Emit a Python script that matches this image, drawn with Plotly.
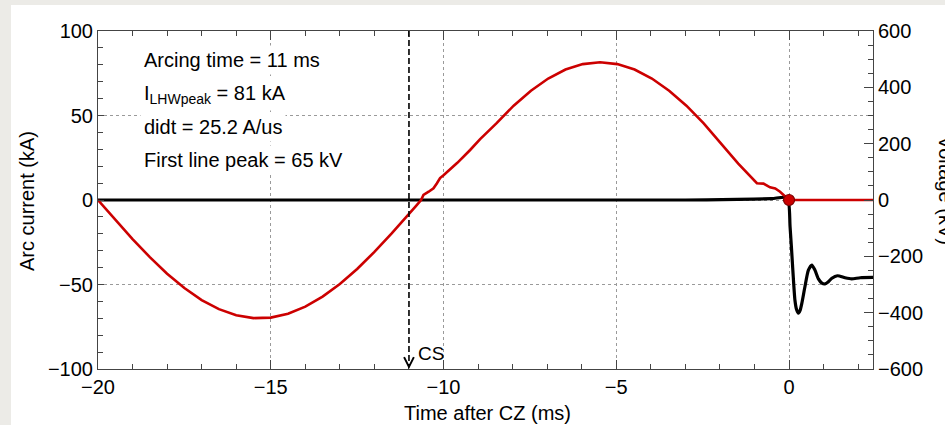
import plotly.graph_objects as go

# ---- data ----
t_current = [-20, -19.5, -19, -18.5, -18, -17.5, -17, -16.5, -16, -15.5, -15, -14.5, -14,
             -13.5, -13, -12.5, -12, -11.5, -11, -10.8, -10.65, -10.58, -10.43, -10.29, -10.19,
             -10.1, -10.0, -9.6, -9.23, -8.94, -8.47, -7.97, -7.47, -6.97, -6.47, -5.97, -5.47,
             -4.97, -4.47, -3.97, -3.47, -2.97, -2.47, -1.97, -1.47, -0.93, -0.74, -0.55, -0.4,
             -0.26, -0.1, 0, 2.43]
current_kA = [0, -11.7, -23.1, -33.8, -43.6, -52.1, -59.2, -64.6, -68.2, -69.9, -69.6, -67.3, -63.1,
              -57.2, -49.7, -40.8, -30.7, -19.8, -8.6, -3.6, 0, 3.0, 4.9, 6.9, 9.9,
              13.0, 14.6, 22.0, 29.6, 36.0, 45.3, 55.8, 64.7, 71.9, 77.2, 80.4, 81.5,
              80.4, 77.2, 71.9, 64.7, 55.8, 45.3, 33.6, 21.5, 9.9, 9.7, 7.5, 6.8,
              4.9, 2.0, 0, 0]

t_voltage = [-20, -3, -1.5, -0.5, -0.05, 0.03, 0.11, 0.17, 0.22, 0.27, 0.32, 0.37, 0.46, 0.56,
             0.66, 0.75, 0.85, 0.95, 1.04, 1.14, 1.24, 1.40, 1.62, 1.81, 2.06, 2.43]
voltage_kV = [0, 0, 2, 5, 8, -95, -249, -355, -390, -402, -392, -367, -308, -249,
              -231, -249, -280, -295, -298, -290, -278, -269, -276, -280, -276, -275]

cz_time = [0]
cz_current = [0]
cs_time = -11

x_ticks = [-20, -15, -10, -5, 0]
current_ticks = [-100, -50, 0, 50, 100]
voltage_ticks = [-600, -400, -200, 0, 200, 400, 600]

info_lines = ["Arcing time = 11 ms",
              "I<sub>LHWpeak</sub> = 81 kA",
              "didt = 25.2 A/us",
              "First line peak = 65 kV"]

# ---- layout geometry ----
W, H = 945, 425
L, R, T, B = 98, 873, 31, 369
def px(x):
    return (x - L) / (R - L)
def py(y):
    return (B - y) / (B - T)

FONT = "Liberation Sans, Arial, sans-serif"
FS = 20
AX = "#444444"
RED = "#cc0000"

fig = go.Figure()
fig.add_trace(go.Scatter(x=t_voltage, y=voltage_kV, mode="lines", yaxis="y",
                         line=dict(color="black", width=3.2, shape="spline", smoothing=0.6),
                         showlegend=False, hoverinfo="skip"))
fig.add_trace(go.Scatter(x=t_current, y=current_kA, mode="lines", yaxis="y2",
                         line=dict(color=RED, width=2.6),
                         showlegend=False, hoverinfo="skip"))
fig.add_trace(go.Scatter(x=cz_time, y=cz_current, mode="markers", yaxis="y2",
                         marker=dict(color=RED, size=11, line=dict(color="#7a0000", width=1.2)),
                         showlegend=False, hoverinfo="skip"))

axis_common = dict(showline=True, linecolor=AX, linewidth=1, ticks="inside",
                   tickcolor=AX, tickfont=dict(family=FONT, size=FS, color="black"),
                   zeroline=False)

fig.update_layout(
    width=W, height=H,
    margin=dict(l=L, r=W - R, t=T, b=H - B),
    paper_bgcolor="white", plot_bgcolor="white",
    font=dict(family=FONT, size=FS, color="black"),
    xaxis=dict(range=[-20, 2.43], tickvals=x_ticks, ticklen=9, mirror="ticks",
               showgrid=True, gridcolor="#9a9a9a", griddash="dot", gridwidth=1,
               minor=dict(dtick=1, tick0=0, ticklen=5, ticks="inside", tickcolor=AX,
                          showgrid=False),
               **axis_common),
    yaxis=dict(range=[-600, 600], tickvals=voltage_ticks, side="right", ticklen=9,
               showgrid=False,
               minor=dict(dtick=50, tick0=0, ticklen=5, ticks="inside", tickcolor=AX,
                          showgrid=False),
               **axis_common),
    yaxis2=dict(range=[-100, 100], tickvals=current_ticks, side="left", overlaying="y",
                ticklen=6, showgrid=True, gridcolor="#9a9a9a", griddash="dot", gridwidth=1,
                minor=dict(dtick=10, tick0=0, ticklen=5, ticks="inside", tickcolor=AX,
                           showgrid=False),
                **axis_common),
)

# page background strips (outside of figure area)
fig.add_shape(type="rect", xref="paper", yref="paper", x0=px(0), x1=px(11), y0=py(H), y1=py(0),
              fillcolor="#ecebe7", line=dict(width=0), layer="below")
fig.add_shape(type="rect", xref="paper", yref="paper", x0=px(0), x1=px(W), y0=py(5), y1=py(0),
              fillcolor="#ecebe7", line=dict(width=0), layer="below")

# CS dashed marker line
fig.add_shape(type="line", xref="x", yref="y2", x0=cs_time, x1=cs_time, y0=100, y1=-99,
              line=dict(color="black", width=1.6, dash="6px,3px"))
fig.add_annotation(x=cs_time, y=-100, xref="x", yref="y2", ax=0, ay=-6, axref="pixel",
                   ayref="pixel", showarrow=True, arrowhead=5, arrowsize=1.6, arrowwidth=1.2,
                   arrowcolor="black", text="")
fig.add_annotation(x=px(416), y=py(353), xref="paper", yref="paper", text="CS",
                   showarrow=False, xanchor="left", yanchor="middle",
                   font=dict(family=FONT, size=19, color="black"))

# info text lines
for txt, yc in zip(info_lines, [60, 95, 127, 160]):
    fig.add_annotation(x=px(140), y=py(yc), xref="paper", yref="paper", text=txt,
                       showarrow=False, xanchor="left", yanchor="middle",
                       bgcolor="white", borderpad=3,
                       font=dict(family=FONT, size=FS, color="black"))

# axis titles
fig.add_annotation(x=px(27), y=py(201), xref="paper", yref="paper", text="Arc current (kA)",
                   textangle=-90, showarrow=False, xanchor="center", yanchor="middle",
                   font=dict(family=FONT, size=FS, color="black"))
fig.add_annotation(x=px(487), y=py(413), xref="paper", yref="paper", text="Time after CZ (ms)",
                   showarrow=False, xanchor="center", yanchor="middle",
                   font=dict(family=FONT, size=FS, color="black"))
fig.add_annotation(x=px(946), y=py(190), xref="paper", yref="paper", text="Voltage (kV)",
                   textangle=90, showarrow=False, xanchor="center", yanchor="middle",
                   font=dict(family=FONT, size=FS, color="black"))

fig.write_html("out.html", post_script="document.body.style.margin='0';",
               config={"displayModeBar": False})
